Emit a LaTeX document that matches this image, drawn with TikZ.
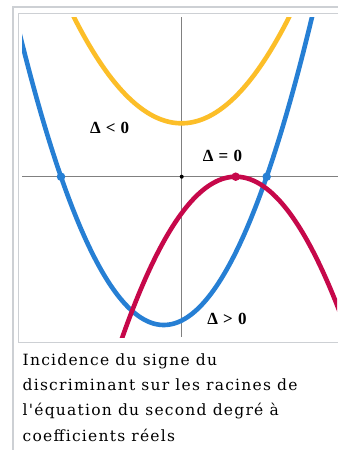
\documentclass[tikz,border=0pt]{standalone}
\usepackage{fontspec}
\newfontfamily\deltafont{Liberation Serif}
\newfontfamily\legendfont[LetterSpace=8]{DejaVu Serif}
\usepackage{xcolor}
\usepackage{tikz}
\usetikzlibrary{positioning,calc}

\definecolor{frameGray}{RGB}{205,208,212}
\definecolor{axisGray}{RGB}{128,128,128}
\definecolor{posBlue}{RGB}{38,127,212}
\definecolor{negYellow}{RGB}{252,190,40}
\definecolor{zeroRed}{RGB}{198,8,74}

\begin{document}
\begin{tikzpicture}[
    x=1pt, y=-1pt,
    curve/.style={line width=4.6pt},
    axis/.style={draw=axisGray, line width=1.3pt},
    root/.style={circle, fill=#1, inner sep=0pt, minimum size=8.5pt},
    origin/.style={circle, fill=black, inner sep=0pt, minimum size=4pt},
    sign/.style={font=\deltafont\bfseries\fontsize{17}{17}\selectfont, inner sep=0pt}
]
\useasboundingbox (0,0) rectangle (338,450);
\fill[white] (0,0) rectangle (338,450);

% Frames
\draw[frameGray, line width=2pt] (13,450) -- (13,7) -- (338,7);
\draw[frameGray, line width=1pt] (338,13) -- (18,13) -- (18,342) -- (338,342);

% Axes
\coordinate (xl) at (22,176.7);
\coordinate (xr) at (338,176.7);
\coordinate (yt) at (181.7,17);
\coordinate (yb) at (181.7,337);
\draw[axis] (xl) -- (xr);
\draw[axis] (yt) -- (yb);

% Parabolas
\begin{scope}
\clip (22,17) rectangle (337,337);
\draw[curve, negYellow] plot[domain=60:305, samples=80, smooth]
    (\x, {123.3 - 0.00917*(\x-181.5)*(\x-181.5)});
\draw[curve, posBlue] plot[domain=15:320, samples=100, smooth]
    (\x, {325 - 0.01403*(\x-163.8)*(\x-163.8)});
\draw[curve, zeroRed] plot[domain=110:345, samples=100, smooth]
    (\x, {176.7 + 0.0125*(\x-235.7)*(\x-235.7)});
\end{scope}

% Roots
\node[origin] (o) at (181.7,176.7) {};
\node[root=posBlue] (r1) at (61,176.7) {};
\node[root=posBlue] (r2) at (266.7,176.7) {};
\node[root=zeroRed] (r0) at (235.7,176.7) {};

% Labels
\node[sign] (neg) at (109.7,128.3) {Δ\hspace{0.3em}<\hspace{0.3em}0};
\node[sign] (zero) at (222.5,155.5) {Δ\hspace{0.3em}=\hspace{0.3em}0};
\node[sign] (pos) at (227,318.8) {Δ\hspace{0.3em}>\hspace{0.3em}0};

% Caption
\node[anchor=base west, inner sep=0pt, align=left,
      font=\legendfont\fontsize{15.5}{25.1}\selectfont] (cap) at (22.5,441)
    {Incidence du signe du\\discriminant sur les racines de\\l'équation du second degré à\\coefficients réels};
\end{tikzpicture}
\end{document}
